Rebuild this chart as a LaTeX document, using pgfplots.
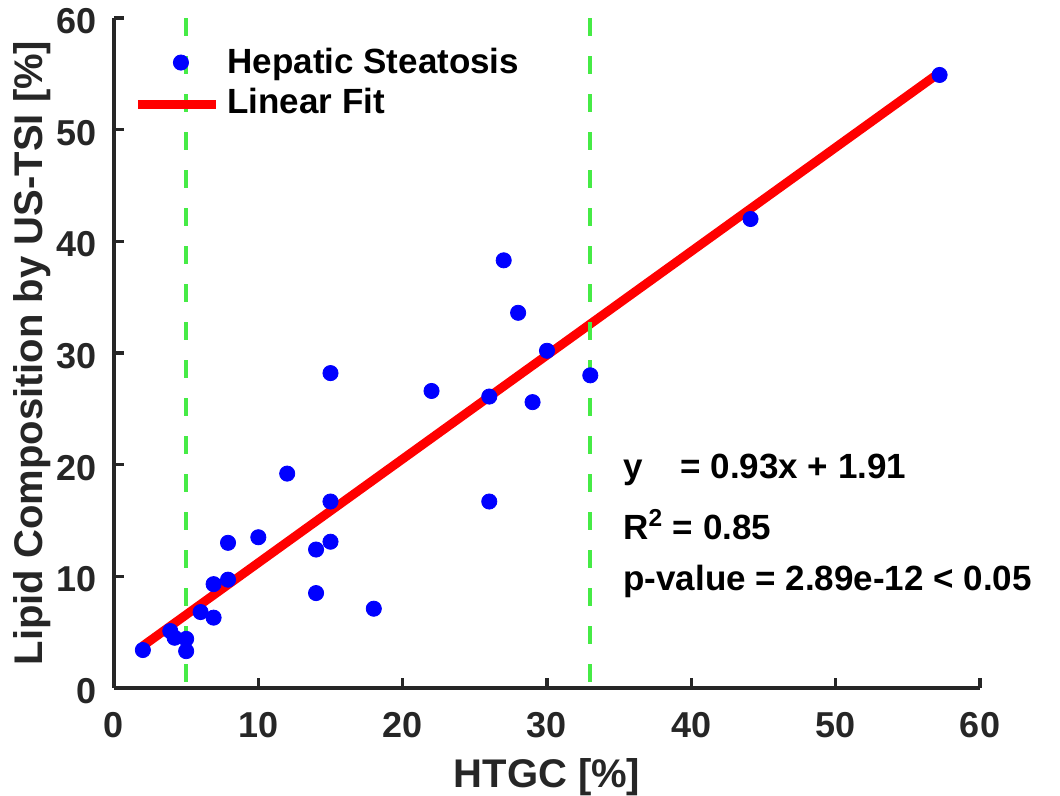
\documentclass[border=0pt]{standalone}
\usepackage{pgfplots}
\pgfplotsset{compat=1.18}
\usepackage{fontspec}
\setmainfont{Liberation Sans}
\definecolor{axgray}{RGB}{38,38,38}
\definecolor{mgreen}{RGB}{70,235,70}
\pgfplotsset{
  markleg/.style={legend image code/.code={\draw[mark repeat=2,mark phase=2,##1] plot coordinates {(2pt,1pt) (21.5pt,1pt) (41pt,1pt)};}},
  lineleg/.style={legend image code/.code={\draw[##1] (0pt,0pt) -- (39pt,0pt);}},
}
\begin{document}
\begin{tikzpicture}
\useasboundingbox (-57pt,-54pt) rectangle (473pt,344pt);
\begin{axis}[
  at={(0pt,0pt)}, anchor=south west,
  width=433pt, height=335pt, scale only axis,
  xmin=0, xmax=60, ymin=0, ymax=60,
  axis lines=left,
  axis line style={-, line width=1.6pt, color=axgray},
  xtick={0,10,...,60}, ytick={0,10,...,60},
  tick align=inside,
  major tick length=5pt,
  every tick/.style={line width=1.6pt, color=axgray},
  /pgf/number format/assume math mode=true,
  ticklabel style={font=\fontsize{18}{18}\selectfont\bfseries, text=axgray},
  xticklabel style={anchor=base, yshift=-25pt},
  yticklabel style={anchor=east, inner sep=0pt, xshift=-8.5pt, yshift=-1.5pt},
  xlabel={HTGC [\%]},
  xlabel style={at={(axis description cs:0.5,-0.148)}, anchor=base, font=\fontsize{20}{20}\selectfont\bfseries, text=axgray},
  ylabel={Lipid Composition by US-TSI [\%]},
  ylabel style={at={(axis description cs:-0.0831,0.5)}, anchor=base, font=\fontsize{20}{20}\selectfont\bfseries, text=axgray},
  legend style={draw=none, fill=none, at={(axis description cs:0.022,0.955)}, anchor=north west, inner sep=0pt,
    font=\fontsize{17.5}{17.5}\selectfont\bfseries, row sep=4pt, column sep=3.5pt,
    nodes={inner sep=0pt, text height=12.5pt, text depth=3.5pt}},
  legend cell align=left,
  clip=false,
]
\addplot[only marks, mark=*, mark size=3.8pt, color=blue, mark options={fill=blue, draw=blue}, markleg]
coordinates {
(2,3.4) (3.9,5.1) (4.2,4.5) (5.0,4.4) (5.0,3.3) (6.0,6.8) (6.9,6.3) (6.9,9.3)
(7.9,9.7) (7.9,13.0) (10.0,13.5) (12.0,19.2) (14.0,12.4) (14.0,8.5) (15.0,13.1)
(15.0,16.7) (15.0,28.2) (18.0,7.1) (22.0,26.6) (26.0,26.1) (26.0,16.7) (27.0,38.3)
(28.0,33.6) (29.0,25.6) (30.0,30.2) (33.0,28.0) (44.1,42.0) (57.2,54.9)
};
\addlegendentry{Hepatic Steatosis}
\addplot[red, line width=4.5pt, lineleg]
coordinates {(2,3.77) (57,54.92)};
\addlegendentry{Linear Fit}
\addplot[mgreen, line width=2pt, dash pattern=on 9pt off 10pt, forget plot] coordinates {(5,60) (5,0)};
\addplot[mgreen, line width=2pt, dash pattern=on 9pt off 10pt, forget plot] coordinates {(33,60) (33,0)};
\node[anchor=base west, font=\fontsize{17.5}{17.5}\selectfont\bfseries] at (axis cs:34.8,18.72) {y\hspace{0.8em} = 0.93x + 1.91};
\node[anchor=base west, font=\fontsize{17.5}{17.5}\selectfont\bfseries] at (axis cs:34.8,13.3) {R\textsuperscript{2} = 0.85};
\node[anchor=base west, font=\fontsize{17.5}{17.5}\selectfont\bfseries] at (axis cs:34.8,8.7) {p-value = 2.89e-12 < 0.05};
\end{axis}
\end{tikzpicture}
\end{document}
